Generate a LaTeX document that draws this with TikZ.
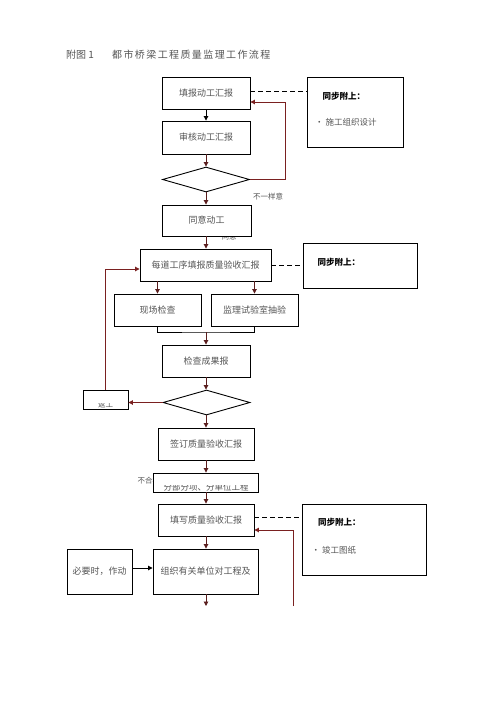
\documentclass[tikz,border=0pt]{standalone}
\usepackage{fontspec}
\setmainfont{Noto Sans CJK SC}
\newfontfamily\titlefont[LetterSpace=14]{Noto Sans CJK SC}
\usetikzlibrary{shapes.geometric,arrows.meta}
\definecolor{txt}{HTML}{555555}
\definecolor{ln}{HTML}{5A1E1E}
\definecolor{fb}{HTML}{7A2020}
\begin{document}
\begin{tikzpicture}[x=1pt,y=-1pt,
  box/.style={draw=black,line width=0.9pt,fill=white,inner sep=0pt,font=\fontsize{9}{10}\selectfont,text=txt},
  note/.style={draw=black,line width=0.9pt,fill=white,inner sep=0pt},
  dia/.style={draw=black,line width=0.9pt,fill=white,diamond,inner sep=0pt},
  arr/.style={line width=0.9pt,draw=ln,-{Triangle[length=4.5pt,width=4.5pt]}},
  arrk/.style={line width=0.9pt,draw=black,-{Triangle[length=4.5pt,width=4.5pt]}},
  fbk/.style={line width=0.9pt,draw=fb,-{Triangle[length=4.5pt,width=4.5pt]}},
  dsh/.style={line width=0.9pt,draw=black,dashed,dash pattern=on 5pt off 3pt},
  lbl/.style={inner sep=0pt,font=\fontsize{7.5}{8}\selectfont,text=txt},
  ntxt/.style={inner sep=0pt,anchor=west,font=\fontsize{8.5}{9}\selectfont}]
\useasboundingbox (0,0) rectangle (496,702);
\fill[white] (0,0) rectangle (496,702);

% title
\node[anchor=west,inner sep=0pt,font=\fontsize{10}{11}\selectfont,text=txt] (t1) at (66,55) {附图 1};
\node[anchor=west,inner sep=0pt,font=\titlefont\fontsize{10}{11}\selectfont,text=txt] (t2) at (112,55) {都市桥梁工程质量监理工作流程};

% labels behind boxes
\node[lbl] (ly) at (229,237) {同意};
\node[lbl,anchor=west] (lb) at (137.5,481) {不合格};

% main column
\node[box,minimum width=88pt,minimum height=32pt] (b1) at (206,93) {填报动工汇报};
\node[box,minimum width=88pt,minimum height=33pt] (b2) at (206,137.5) {审核动工汇报};
\node[dia,minimum width=87pt,minimum height=25pt] (d1) at (206,179.5) {};
\node[box,minimum width=89pt,minimum height=31pt] (b3) at (206.5,220.5) {同意动工};
\node[box,minimum width=131pt,minimum height=32pt] (b4) at (205.5,265) {每道工序填报质量验收汇报};
\node[box,minimum width=87pt,minimum height=32pt] (b5) at (157.5,310) {现场检查};
\node[box,minimum width=87pt,minimum height=32pt] (b6) at (254.5,310) {监理试验室抽验};
\node[box,minimum width=88pt,minimum height=32pt] (b7) at (206,361) {检查成果报};
\node[dia,minimum width=87pt,minimum height=25pt] (d2) at (206.5,402.5) {};
\node[box,minimum width=45pt,minimum height=19pt] (r) at (105.5,399.5) {};
\node[box,minimum width=96pt,minimum height=32pt] (b8) at (206,444) {签订质量验收汇报};
\node[box,minimum width=105pt,minimum height=19pt] (b9) at (205.5,482.5) {};
\node[box,minimum width=96pt,minimum height=32pt] (b10) at (206,520) {填写质量验收汇报};
\node[box,minimum width=105pt,minimum height=45pt] (b11) at (205.5,571.5) {组织有关单位对工程及};
\node[box,minimum width=65pt,minimum height=45pt] (b12) at (99.5,571.5) {必要时，作动};

% clipped texts (only lower halves visible)
\begin{scope}
\clip (r.west|-0,403) rectangle (r.south east);
\node[lbl] (rt) at (105.5,405) {返工};
\end{scope}
\begin{scope}
\clip (b9.west|-0,485) rectangle (b9.south east);
\node[lbl,font=\fontsize{8.5}{9}\selectfont] (b9t) at (206,487.5) {分部分项、分单位工程};
\end{scope}

% notes
\node[note,minimum width=96pt,minimum height=70pt] (n1) at (355,112) {};
\node[ntxt,font=\fontsize{8.5}{9}\selectfont\bfseries] (n1a) at (322.5,96) {同步附上：};
\node[ntxt,text=txt] (n1b) at (315,122.5) {• 施工组织设计};
\node[note,minimum width=114pt,minimum height=45pt] (n2) at (360,265.5) {};
\node[ntxt,font=\fontsize{8.5}{9}\selectfont\bfseries] (n2a) at (317.5,262) {同步附上：};
\node[note,minimum width=124pt,minimum height=71pt] (n3) at (364,539.5) {};
\node[ntxt,font=\fontsize{8.5}{9}\selectfont\bfseries] (n3a) at (318,522.5) {同步附上：};
\node[ntxt,text=txt] (n3b) at (311.5,550.5) {• 竣工图纸};

% other labels
\node[lbl] (lno) at (268,197) {不一样意};

% connectors
\draw[arrk] (b1.south) -- (b2.north);
\draw[arr] (b2.south) -- (d1.north);
\coordinate (f1) at (285,102);
\draw[fbk] (d1.east) -| (f1) -- (b1.east|-f1);
\draw[arr] (d1.south) -- (b3.north-|d1.south);
\draw[arr] (b3.south-|d1.south) -- (b4.north-|d1.south);
\draw[dsh] (b1.east|-0,91) -- (n1.west|-0,91);
\draw[dsh] (b4.east) -- (n2.west|-b4.east);
\draw[arr] (b4.south-|b5.north) -- (b5.north);
\draw[arr] (b4.south-|b6.north) -- (b6.north);
\coordinate (m) at (206,332);
\draw[line width=0.9pt,draw=black] (b5.south) |- (m) -| (b6.south);
\draw[arr] (m) -- (b7.north-|m);
\draw[arr] (b7.south) -- (d2.north-|b7.south);
\draw[fbk] (d2.west) -- (r.east|-d2.west);
\coordinate (f2) at (105.5,269);
\draw[fbk] (r.north) -- (f2) -- (b4.west|-f2);
\draw[arr] (d2.south-|b8.north) -- (b8.north);
\draw[arr] (b8.south) -- (b9.north-|b8.south);
\draw[arr] (b9.south-|b8.south) -- (b10.north);
\draw[dsh] (b10.east|-0,517) -- (n3.west|-0,517);
\coordinate (f3) at (293,606);
\draw[fbk] (f3) |- (b10.east|-0,530);
\draw[arr] (b10.south) -- (b11.north-|b10.south);
\draw[arrk] (b12.east|-0,568) -- (b11.west|-0,568);
\coordinate (e1) at (206,606);
\draw[arr] (b11.south-|e1) -- (e1);
\end{tikzpicture}
\end{document}
